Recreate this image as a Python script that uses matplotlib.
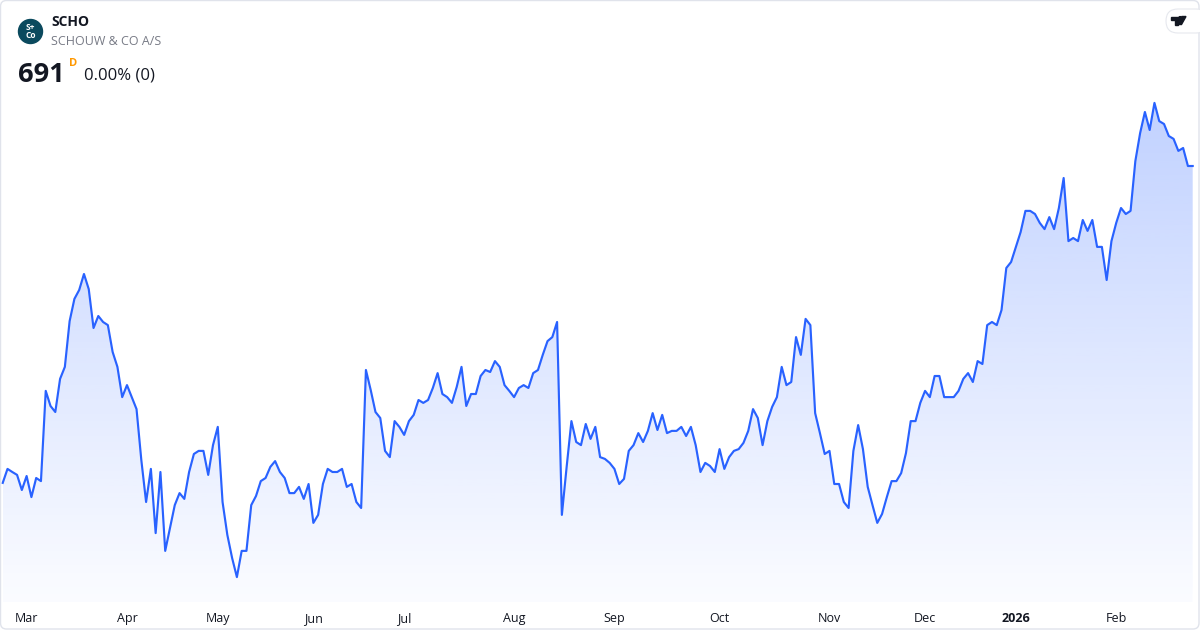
#!/usr/bin/env python3
"""Mini area chart of SCHO (Schouw & Co A/S) daily closes, TradingView widget style."""

from __future__ import annotations

import matplotlib

matplotlib.use("Agg")
import matplotlib.pyplot as plt  # noqa: E402
import numpy as np  # noqa: E402
from matplotlib.patches import Circle, FancyBboxPatch, Polygon  # noqa: E402


SYMBOL = "SCHO"
COMPANY = "SCHOUW & CO A/S"
LAST_PRICE = "691"
CHANGE_TEXT = "0.00% (0)"

# daily closes, late Feb 2025 -> late Feb 2026
CLOSES = [
    548.4, 554.7, 553.3, 552.0, 545.2, 551.5, 542.0, 550.6, 549.2, 589.8,
    583.0, 580.3, 595.2, 600.6, 621.2, 631.2, 635.2, 642.4, 635.6, 618.1,
    623.5, 620.8, 619.4, 607.3, 600.6, 587.0, 592.4, 587.0, 581.6, 558.7,
    539.8, 554.7, 525.8, 553.3, 517.8, 528.1, 538.4, 543.8, 541.2, 553.3,
    561.4, 562.8, 562.8, 552.0, 565.4, 573.6, 539.8, 525.0, 514.6, 506.0,
    517.8, 517.8, 538.4, 542.5, 549.2, 550.6, 555.6, 558.2, 553.3, 550.6,
    543.8, 543.8, 546.6, 541.2, 547.9, 530.4, 534.0, 547.9, 554.7, 553.3,
    553.3, 554.7, 546.6, 547.9, 539.8, 537.1, 599.2, 590.2, 580.3, 577.6,
    562.8, 560.0, 576.2, 573.6, 570.0, 576.2, 579.0, 585.7, 584.4, 585.7,
    591.1, 597.8, 588.4, 587.0, 584.4, 591.6, 600.6, 583.0, 588.4, 588.4,
    596.5, 599.2, 598.3, 603.2, 600.6, 592.4, 589.8, 587.0, 591.1, 592.4,
    591.1, 597.8, 599.2, 606.0, 612.2, 614.0, 620.8, 534.0, 555.6, 576.2,
    566.8, 565.4, 574.9, 568.2, 573.6, 560.0, 559.2, 557.4, 554.7, 547.9,
    550.2, 562.8, 565.4, 570.8, 566.8, 571.8, 579.8, 572.2, 579.0, 570.8,
    571.8, 571.8, 573.6, 569.5, 573.6, 565.4, 553.3, 557.4, 556.0, 553.3,
    563.6, 554.7, 560.0, 562.8, 563.6, 566.4, 571.8, 581.6, 577.6, 565.4,
    576.2, 582.6, 587.0, 600.6, 592.4, 593.8, 614.0, 606.0, 622.2, 619.4,
    579.8, 570.8, 561.4, 562.8, 547.9, 547.9, 539.8, 537.1, 562.8, 574.4,
    563.6, 546.6, 538.4, 530.4, 534.4, 542.0, 549.2, 549.2, 552.8, 561.8,
    576.2, 576.2, 584.4, 589.8, 587.0, 596.5, 596.5, 587.0, 587.0, 587.0,
    589.8, 595.2, 597.8, 593.8, 603.2, 601.9, 619.4, 620.8, 619.4, 626.2,
    645.1, 647.8, 654.6, 661.3, 670.8, 670.8, 669.4, 665.4, 662.6, 668.0,
    662.6, 672.1, 685.6, 657.2, 658.6, 657.2, 666.7, 661.8, 666.7, 654.6,
    654.6, 639.7, 657.2, 665.4, 672.1, 669.4, 670.8, 693.2, 705.8, 715.3,
    707.2, 719.4, 711.2, 709.9, 704.5, 703.2, 697.8, 699.1, 691.0, 691.0,
]

# first trading session of each month (index into CLOSES)
MONTH_POS = [5, 26, 45, 65, 84, 107, 128, 150, 173, 193, 212, 233]
MONTH_LABELS = ["Mar", "Apr", "May", "Jun", "Jul", "Aug", "Sep", "Oct", "Nov", "Dec", "2026", "Feb"]

LINE_COLOR = "#2962ff"
TEXT_COLOR = "#131722"
MUTED_COLOR = "#787b86"
FONT = ["Open Sans", "DejaVu Sans"]

W, H = 1200, 630


def _fig_box(left_px: float, top_px: float, right_px: float, bottom_px: float) -> list[float]:
    return [left_px / W, 1 - bottom_px / H, (right_px - left_px) / W, (bottom_px - top_px) / H]


def _plot_area(fig: plt.Figure) -> None:
    ax = fig.add_axes(_fig_box(0, 0, W, 602))
    ax.set_facecolor("none")
    y = np.array(CLOSES)
    x = np.arange(len(y))
    ax.set_xlim(-0.57, len(y) - 1 + 1.53)
    ax.set_ylim(494.8, 765.7)
    y_floor = ax.get_ylim()[0]

    # gradient fill clipped to the area under the line
    alpha = np.linspace(0.02, 0.29, 256)
    rgba = np.zeros((256, 1, 4))
    rgba[..., 0], rgba[..., 1], rgba[..., 2] = 41 / 255, 98 / 255, 1.0
    rgba[:, 0, 3] = alpha
    img = ax.imshow(rgba, extent=[x[0], x[-1], y_floor, y.max()], origin="lower", aspect="auto", zorder=1)
    verts = np.column_stack([np.r_[x, x[-1], x[0]], np.r_[y, y_floor, y_floor]])
    clip = Polygon(verts, closed=True, facecolor="none", edgecolor="none")
    ax.add_patch(clip)
    img.set_clip_path(clip)

    ax.plot(x, y, color=LINE_COLOR, linewidth=1.55, solid_joinstyle="round", zorder=2)

    ax.set_xticks(MONTH_POS, MONTH_LABELS)
    ax.tick_params(axis="x", length=0, pad=7, labelsize=9, labelcolor=TEXT_COLOR)
    for label in ax.get_xticklabels():
        label.set_family(FONT)
        if label.get_text() == "2026":
            label.set_fontweight("bold")
    ax.set_yticks([])
    for spine in ax.spines.values():
        spine.set_visible(False)


def _header(fig: plt.Figure) -> None:
    ov = fig.add_axes([0, 0, 1, 1], zorder=5)
    ov.set_xlim(0, W)
    ov.set_ylim(H, 0)
    ov.axis("off")
    ov.patch.set_alpha(0)

    ov.add_patch(FancyBboxPatch((0.5, 0.5), W - 1.5, H - 1.5, boxstyle="round,pad=0,rounding_size=6",
                                facecolor="none", edgecolor="#e0e3eb", linewidth=1))

    # company logo
    ov.add_patch(Circle((30.5, 31.5), 12, color="#0b4a5e"))
    ov.text(30.5, 28, "S+", color="white", fontsize=6, fontweight="bold", ha="center", va="center", family=FONT)
    ov.text(30.5, 36, "Co", color="white", fontsize=6, fontweight="bold", ha="center", va="center", family=FONT)

    ov.text(51, 26, SYMBOL, color=TEXT_COLOR, fontsize=10, fontweight="bold", va="baseline", family=FONT)
    ov.text(51, 45, COMPANY, color=MUTED_COLOR, fontsize=9, va="baseline", family=FONT)
    ov.text(18, 82, LAST_PRICE, color=TEXT_COLOR, fontsize=19.5, fontweight="bold", va="baseline", family=FONT)
    ov.text(69, 66, "D", color="#ff9800", fontsize=8, fontweight="bold", va="baseline", family=FONT)
    ov.text(84, 80, CHANGE_TEXT, color=TEXT_COLOR, fontsize=12, va="baseline", family=FONT)

    # TradingView badge, top right
    ov.add_patch(FancyBboxPatch((1166, 9), 42, 24, boxstyle="round,pad=0,rounding_size=12",
                                facecolor="white", edgecolor="#e6e8ee", linewidth=0.8))
    ov.add_patch(Polygon([(1171, 16.5), (1178, 16.5), (1178, 24.5), (1174.5, 24.5), (1174.5, 19.8),
                          (1171, 19.8)], closed=True, color="#131722"))
    ov.add_patch(Circle((1180.2, 18.2), 1.6, color="#131722"))
    ov.add_patch(Polygon([(1182, 16.5), (1186, 16.5), (1181.5, 24.5), (1177.5, 24.5)], closed=True,
                         color="#131722"))


def main() -> int:
    fig = plt.figure(figsize=(W / 100, H / 100), dpi=100, facecolor="white")
    _plot_area(fig)
    _header(fig)
    fig.savefig("out.png", dpi=100, facecolor="white")
    plt.close(fig)
    return 0


if __name__ == "__main__":
    raise SystemExit(main())
